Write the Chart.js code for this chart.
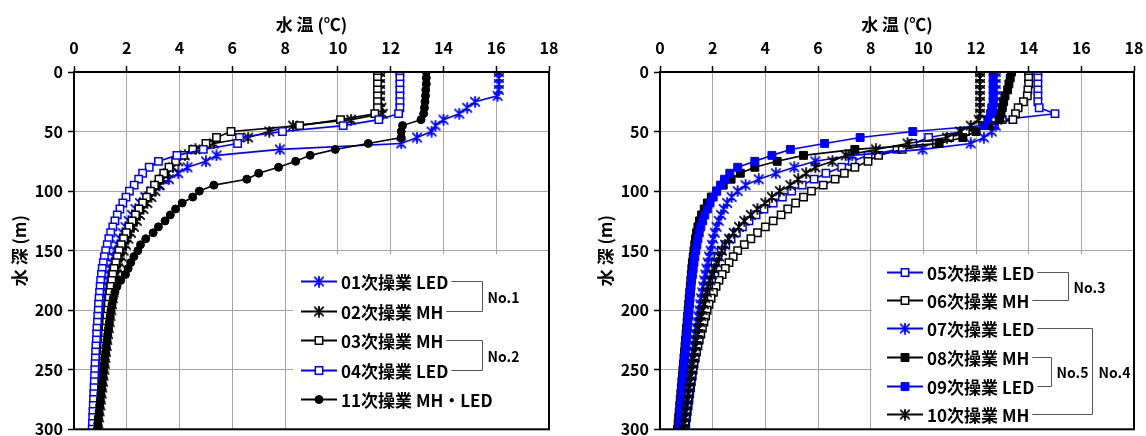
<!DOCTYPE html>
<html lang="ja">
<head>
<meta charset="utf-8">
<title>水温鉛直分布</title>
<script src="https://cdn.jsdelivr.net/npm/chart.js@4"></script>
<style>
  html, body { margin: 0; padding: 0; background: #fff; }
  body { width: 1146px; height: 436px; position: relative; overflow: hidden; }
  canvas { position: absolute; top: 0; }
  #left { left: 0; }
  #right { left: 586px; }
</style>
</head>
<body>
<canvas id="left" width="586" height="436"></canvas>
<canvas id="right" width="560" height="436"></canvas>
<script>
// ---- axis ticks ----
const tempTicks = [0, 2, 4, 6, 8, 10, 12, 14, 16, 18];
const depthTicks = [0, 50, 100, 150, 200, 250, 300];

// ---- sampling depths (m) ----
const depths = [
  0, 5, 10, 15, 20, 25, 30, 35, 40, 45,
  50, 55, 60, 65, 70, 75, 80, 85, 90, 95,
  100, 105, 110, 115, 120, 125, 130, 135, 140, 145,
  150, 155, 160, 165, 170, 175, 180, 185, 190, 195,
  200, 205, 210, 215, 220, 225, 230, 235, 240, 245,
  250, 255, 260, 265, 270, 275, 280, 285, 290, 295,
  300
];

// ---- water temperature (°C) per operation, left panel ----
const t01 = [
  16.1, 16.1, 16.1, 16.1, 16.05, 15.2, 14.9, 14.6, 14.0, 13.7,
  13.55, 13.0, 12.4, 7.8, 5.4, 5.0, 4.3, 3.95, 3.6, 3.25,
  2.95, 2.7, 2.5, 2.33, 2.2, 2.07, 1.95, 1.84, 1.74, 1.65,
  1.57, 1.5, 1.44, 1.39, 1.34, 1.3, 1.26, 1.22, 1.19, 1.16,
  1.13, 1.1, 1.08, 1.06, 1.04, 1.02, 1.0, 0.98, 0.96, 0.95,
  0.93, 0.92, 0.9, 0.89, 0.87, 0.86, 0.84, 0.83, 0.81, 0.8,
  0.78
];
const t02 = [
  11.6, 11.6, 11.6, 11.6, 11.6, 11.6, 11.65, 11.7, 10.5, 8.3,
  7.4, 6.6, 5.3, 4.6, 4.2, 3.95, 3.75, 3.55, 3.38, 3.22,
  3.08, 2.93, 2.78, 2.63, 2.5, 2.38, 2.27, 2.16, 2.06, 1.97,
  1.88, 1.8, 1.73, 1.67, 1.62, 1.57, 1.53, 1.5, 1.47, 1.44,
  1.41, 1.38, 1.35, 1.32, 1.29, 1.26, 1.24, 1.21, 1.19, 1.17,
  1.15, 1.12, 1.1, 1.07, 1.05, 1.02, 1.0, 0.97, 0.95, 0.92,
  0.9
];
const t03 = [
  11.5, 11.5, 11.5, 11.5, 11.5, 11.5, 11.5, 11.4, 10.1, 8.55,
  5.95, 5.4, 5.0, 4.5, 4.15, 3.85, 3.6, 3.4, 3.22, 3.05,
  2.9, 2.75, 2.6, 2.46, 2.33, 2.2, 2.09, 1.98, 1.88, 1.79,
  1.71, 1.64, 1.58, 1.52, 1.47, 1.43, 1.39, 1.36, 1.33, 1.3,
  1.28, 1.25, 1.23, 1.21, 1.19, 1.17, 1.15, 1.13, 1.11, 1.09,
  1.07, 1.05, 1.03, 1.01, 0.99, 0.97, 0.95, 0.93, 0.91, 0.89,
  0.87
];
const t04 = [
  12.35, 12.35, 12.35, 12.35, 12.35, 12.35, 12.35, 12.3, 11.55, 10.2,
  7.9, 6.27, 6.2, 4.9, 3.9, 3.2, 2.85, 2.6, 2.45, 2.28,
  2.1, 1.97, 1.85, 1.74, 1.64, 1.55, 1.47, 1.39, 1.32, 1.26,
  1.2, 1.15, 1.11, 1.07, 1.04, 1.01, 0.99, 0.97, 0.95, 0.93,
  0.92, 0.9, 0.89, 0.87, 0.86, 0.85, 0.83, 0.82, 0.81, 0.8,
  0.79, 0.78, 0.77, 0.76, 0.75, 0.74, 0.73, 0.72, 0.71, 0.7,
  0.69
];
const t11 = [
  13.35, 13.35, 13.35, 13.33, 13.32, 13.3, 13.28, 13.25, 13.15, 12.45,
  12.4, 12.4, 11.15, 9.9, 8.95, 8.4, 7.75, 7.0, 6.55, 5.3,
  4.75, 4.5, 4.1, 3.85, 3.65, 3.45, 3.2, 3.0, 2.72, 2.52,
  2.42, 2.27, 2.15, 2.05, 1.95, 1.77, 1.63, 1.55, 1.49, 1.44,
  1.4, 1.37, 1.34, 1.31, 1.28, 1.25, 1.22, 1.2, 1.17, 1.15,
  1.12, 1.1, 1.07, 1.05, 1.02, 1.0, 0.97, 0.95, 0.92, 0.9,
  0.88
];

// ---- water temperature (°C) per operation, right panel ----
const t05 = [
  14.35, 14.35, 14.35, 14.35, 14.35, 14.35, 14.4, 15.0, 13.0, 12.7,
  11.5, 10.2, 9.6, 9.0, 7.9, 7.3, 6.9, 6.3, 5.85, 5.4,
  5.0, 4.65, 4.3, 3.95, 3.65, 3.38, 3.13, 2.9, 2.7, 2.5,
  2.33, 2.2, 2.09, 2.0, 1.92, 1.85, 1.79, 1.73, 1.68, 1.63,
  1.59, 1.55, 1.51, 1.47, 1.43, 1.4, 1.37, 1.34, 1.31, 1.28,
  1.25, 1.22, 1.19, 1.16, 1.13, 1.1, 1.07, 1.04, 1.01, 0.98,
  0.95
];
const t06 = [
  14.0, 14.0, 14.0, 13.97, 13.95, 13.8, 13.6, 13.5, 13.4, 12.4,
  11.6, 11.0, 10.5, 9.2, 8.3, 7.9, 7.4, 7.0, 6.65, 6.2,
  5.75, 5.45, 5.15, 4.85, 4.6, 4.3, 4.0, 3.7, 3.45, 3.2,
  2.95, 2.78, 2.62, 2.48, 2.36, 2.24, 2.13, 2.03, 1.94, 1.86,
  1.79, 1.73, 1.67, 1.61, 1.55, 1.49, 1.44, 1.39, 1.34, 1.29,
  1.25, 1.21, 1.17, 1.13, 1.1, 1.07, 1.04, 1.01, 0.98, 0.95,
  0.92
];
const t07 = [
  12.75, 12.75, 12.75, 12.75, 12.75, 12.75, 12.75, 12.75, 12.8, 12.75,
  12.6, 12.3, 11.8, 9.97, 7.3, 5.9, 5.1, 4.4, 3.75, 3.25,
  2.95, 2.72, 2.55, 2.42, 2.32, 2.23, 2.15, 2.08, 2.02, 1.97,
  1.92, 1.86, 1.81, 1.76, 1.72, 1.68, 1.64, 1.6, 1.56, 1.53,
  1.5, 1.46, 1.43, 1.4, 1.37, 1.34, 1.31, 1.28, 1.25, 1.22,
  1.19, 1.16, 1.13, 1.1, 1.07, 1.04, 1.01, 0.98, 0.95, 0.92,
  0.89
];
const t08 = [
  13.35, 13.3, 13.25, 13.2, 13.1, 13.05, 13.0, 12.95, 12.9, 12.5,
  12.0, 11.5, 10.6, 7.4, 5.45, 4.45, 3.6, 3.05, 2.7, 2.4,
  2.15, 1.95, 1.8, 1.68, 1.58, 1.5, 1.44, 1.39, 1.35, 1.32,
  1.29, 1.26, 1.23, 1.21, 1.19, 1.17, 1.15, 1.13, 1.11, 1.09,
  1.07, 1.05, 1.03, 1.01, 0.99, 0.97, 0.95, 0.93, 0.91, 0.89,
  0.87, 0.85, 0.83, 0.81, 0.79, 0.77, 0.75, 0.73, 0.71, 0.69,
  0.67
];
const t09 = [
  12.65, 12.65, 12.65, 12.65, 12.65, 12.65, 12.6, 12.55, 12.45, 12.3,
  9.6, 7.6, 6.25, 4.95, 4.25, 3.6, 2.95, 2.65, 2.45, 2.3,
  2.15, 2.02, 1.9, 1.8, 1.7, 1.62, 1.55, 1.49, 1.44, 1.4,
  1.36, 1.32, 1.29, 1.26, 1.23, 1.2, 1.18, 1.16, 1.14, 1.12,
  1.1, 1.08, 1.06, 1.04, 1.02, 1.0, 0.98, 0.96, 0.94, 0.92,
  0.9, 0.88, 0.86, 0.84, 0.82, 0.8, 0.79, 0.77, 0.76, 0.74,
  0.72
];
const t10 = [
  12.15, 12.15, 12.15, 12.15, 12.15, 12.15, 12.15, 12.15, 12.1, 11.8,
  11.4, 10.9, 9.4, 8.2, 7.05, 6.55, 5.9, 5.55, 5.25, 4.95,
  4.55, 4.25, 4.0, 3.7, 3.45, 3.2, 3.0, 2.8, 2.62, 2.47,
  2.35, 2.25, 2.15, 2.06, 1.98, 1.91, 1.84, 1.78, 1.72, 1.67,
  1.62, 1.57, 1.52, 1.48, 1.44, 1.4, 1.36, 1.32, 1.28, 1.25,
  1.21, 1.18, 1.14, 1.11, 1.08, 1.05, 1.02, 0.99, 0.96, 0.93,
  0.9
];

// ---- series names ----
const leftNames = ['01次操業 LED', '02次操業 MH', '03次操業 MH', '04次操業 LED', '11次操業 MH・LED'];
const rightNames = ['05次操業 LED', '06次操業 MH', '07次操業 LED', '08次操業 MH', '09次操業 LED', '10次操業 MH'];

const BLUE = '#0000ff';
const BLACK = '#000000';
const FONT = '"Noto Sans CJK JP", "Noto Sans", sans-serif';

// asterisk marker: an X with a vertical stroke
function asterisk(color) {
  const s = 12, c = document.createElement('canvas');
  c.width = s; c.height = s;
  const g = c.getContext('2d');
  g.strokeStyle = color; g.lineWidth = 1.8; g.lineCap = 'round';
  g.beginPath();
  g.moveTo(6, 0.9); g.lineTo(6, 11.1);
  g.moveTo(1.8, 1.8); g.lineTo(10.2, 10.2);
  g.moveTo(10.2, 1.8); g.lineTo(1.8, 10.2);
  g.stroke();
  return c;
}
const starBlue = asterisk(BLUE);
const starBlack = asterisk(BLACK);

const markers = {
  starBlue:   { pointStyle: starBlue, pointRadius: 5, pointBackgroundColor: BLUE, pointBorderColor: BLUE, pointBorderWidth: 1 },
  starBlack:  { pointStyle: starBlack, pointRadius: 5, pointBackgroundColor: BLACK, pointBorderColor: BLACK, pointBorderWidth: 1 },
  openBlue:   { pointStyle: 'rect', pointRadius: 5.2, pointBackgroundColor: '#fff', pointBorderColor: BLUE, pointBorderWidth: 1.5 },
  openBlack:  { pointStyle: 'rect', pointRadius: 5.2, pointBackgroundColor: '#fff', pointBorderColor: BLACK, pointBorderWidth: 1.5 },
  fillBlue:   { pointStyle: 'rect', pointRadius: 5.6, pointBackgroundColor: BLUE, pointBorderColor: BLUE, pointBorderWidth: 1 },
  fillBlack:  { pointStyle: 'rect', pointRadius: 5.6, pointBackgroundColor: BLACK, pointBorderColor: BLACK, pointBorderWidth: 1 },
  dotBlack:   { pointStyle: 'circle', pointRadius: 4, pointBackgroundColor: BLACK, pointBorderColor: BLACK, pointBorderWidth: 1 }
};

function series(label, temps, color, marker, n, i) {
  return Object.assign({
    label,
    data: temps.map((t, k) => ({ x: t, y: depths[k] })),
    showLine: true,
    borderColor: color,
    borderWidth: 1.6,
    tension: 0,
    order: n - i,
    pointHoverRadius: 0
  }, markers[marker]);
}

// legend with bracket grouping, drawn inside the plot area
const bracketLegend = {
  id: 'bracketLegend',
  afterDatasetsDraw(chart, args, o) {
    const { ctx, chartArea: a } = chart;
    ctx.save();
    ctx.fillStyle = '#fff';
    ctx.fillRect(a.left + o.boxLeft, a.top + o.boxTop, a.right - a.left - o.boxLeft, a.bottom - a.top - o.boxTop);
    ctx.font = o.font;
    ctx.textBaseline = 'middle';
    ctx.textAlign = 'left';
    const ends = [];
    chart.data.datasets.forEach((ds, i) => {
      const y = Math.round(a.top + o.rows[i]) + 0.5;
      const x0 = a.left + o.lineStart, x1 = x0 + o.lineLength;
      ctx.strokeStyle = ds.borderColor;
      ctx.lineWidth = 1.8;
      ctx.beginPath(); ctx.moveTo(x0, y); ctx.lineTo(x1, y); ctx.stroke();
      ctx.fillStyle = ds.pointBackgroundColor;
      ctx.strokeStyle = ds.pointBorderColor;
      ctx.lineWidth = ds.pointBorderWidth;
      Chart.helpers.drawPoint(ctx, {
        pointStyle: ds.pointStyle, radius: ds.pointRadius, rotation: 0, borderWidth: ds.pointBorderWidth
      }, (x0 + x1) / 2, y);
      ctx.fillStyle = '#000';
      const tx = x1 + o.textGap;
      ctx.fillText(ds.label, tx, y + 1);
      ends.push(tx + ctx.measureText(ds.label).width);
    });
    ctx.strokeStyle = '#555';
    ctx.lineWidth = 1;
    o.groups.forEach(g => {
      const vx = Math.round(a.left + g.x) + 0.5;
      const y1 = Math.round(a.top + o.rows[g.from]) + 0.5;
      const y2 = Math.round(a.top + o.rows[g.to]) + 0.5;
      ctx.beginPath();
      ctx.moveTo(ends[g.from] + 3, y1); ctx.lineTo(vx, y1);
      ctx.lineTo(vx, y2); ctx.lineTo(ends[g.to] + 3, y2);
      ctx.stroke();
      ctx.fillStyle = '#000';
      ctx.font = o.groupFont;
      ctx.fillText(g.label, vx + g.gap, (y1 + y2) / 2 + 1);
      ctx.font = o.font;
    });
    ctx.restore();
  }
};

// black frame round the plot area
const plotFrame = {
  id: 'plotFrame',
  afterDraw(chart) {
    const { ctx, chartArea: a } = chart;
    ctx.save();
    ctx.strokeStyle = '#000';
    ctx.lineWidth = 2;
    ctx.strokeRect(a.left, a.top, a.right - a.left, a.bottom - a.top);
    ctx.restore();
  }
};

function makeChart(canvasId, datasets, rightPad, legendOpts) {
  return new Chart(document.getElementById(canvasId), {
    type: 'scatter',
    data: { datasets },
    plugins: [bracketLegend, plotFrame],
    options: {
      responsive: false,
      animation: false,
      devicePixelRatio: 1,
      events: [],
      layout: { padding: { left: 0, right: rightPad, top: 0, bottom: 5 } },
      plugins: {
        legend: { display: false },
        tooltip: { enabled: false },
        bracketLegend: legendOpts
      },
      scales: {
        x: {
          type: 'linear', position: 'top', min: 0, max: 18,
          afterBuildTicks: s => { s.ticks = tempTicks.map(v => ({ value: v })); },
          afterFit: s => { s.height = 72; s.paddingLeft = 0; s.paddingRight = 0; },
          ticks: { color: '#000', font: { family: FONT, size: 16, weight: 'bold' }, padding: 8, maxRotation: 0 },
          grid: { color: '#a6a6a6', lineWidth: 1, tickColor: '#000', tickLength: 6, tickWidth: 1.5 },
          border: { color: '#000', width: 2 },
          title: { display: true, text: '水 温 (℃)', color: '#000', font: { family: FONT, size: 17, weight: 'bold' }, padding: { top: 14, bottom: 0 } }
        },
        y: {
          type: 'linear', position: 'left', min: 0, max: 300, reverse: true,
          afterBuildTicks: s => { s.ticks = depthTicks.map(v => ({ value: v })); },
          afterFit: s => { s.width = 74; s.paddingTop = 0; s.paddingBottom = 0; },
          ticks: { color: '#000', font: { family: FONT, size: 16, weight: 'bold' }, padding: 5 },
          grid: { color: '#a6a6a6', lineWidth: 1, tickColor: '#000', tickLength: 6, tickWidth: 1.5 },
          border: { color: '#000', width: 2 },
          title: { display: true, text: '水 深 (m)', color: '#000', font: { family: FONT, size: 17, weight: 'bold' }, padding: { top: 9, bottom: 0 } }
        }
      }
    }
  });
}

const leftSets = [
  series(leftNames[0], t01, BLUE, 'starBlue', 5, 0),
  series(leftNames[1], t02, BLACK, 'starBlack', 5, 1),
  series(leftNames[2], t03, BLACK, 'openBlack', 5, 2),
  series(leftNames[3], t04, BLUE, 'openBlue', 5, 3),
  series(leftNames[4], t11, BLACK, 'dotBlack', 5, 4)
];
const rightSets = [
  series(rightNames[0], t05, BLUE, 'openBlue', 6, 0),
  series(rightNames[1], t06, BLACK, 'openBlack', 6, 1),
  series(rightNames[2], t07, BLUE, 'starBlue', 6, 2),
  series(rightNames[3], t08, BLACK, 'fillBlack', 6, 3),
  series(rightNames[4], t09, BLUE, 'fillBlue', 6, 4),
  series(rightNames[5], t10, BLACK, 'starBlack', 6, 5)
];

makeChart('left', leftSets, 37, {
  boxLeft: 219, boxTop: 182,
  lineStart: 227, lineLength: 36, textGap: 4,
  rows: [209, 239, 268, 298, 327],
  font: 'bold 17px ' + FONT,
  groupFont: 'bold 14px ' + FONT,
  groups: [
    { label: 'No.1', from: 0, to: 1, x: 408, gap: 5 },
    { label: 'No.2', from: 2, to: 3, x: 408, gap: 5 }
  ]
});

makeChart('right', rightSets, 12, {
  boxLeft: 212, boxTop: 182,
  lineStart: 227, lineLength: 36, textGap: 4,
  rows: [200, 228, 256, 285, 314, 342],
  font: 'bold 17px ' + FONT,
  groupFont: 'bold 14px ' + FONT,
  groups: [
    { label: 'No.3', from: 0, to: 1, x: 408, gap: 5 },
    { label: 'No.5', from: 3, to: 4, x: 391, gap: 5 },
    { label: 'No.4', from: 2, to: 5, x: 432, gap: 6 }
  ]
});
</script>
</body>
</html>
